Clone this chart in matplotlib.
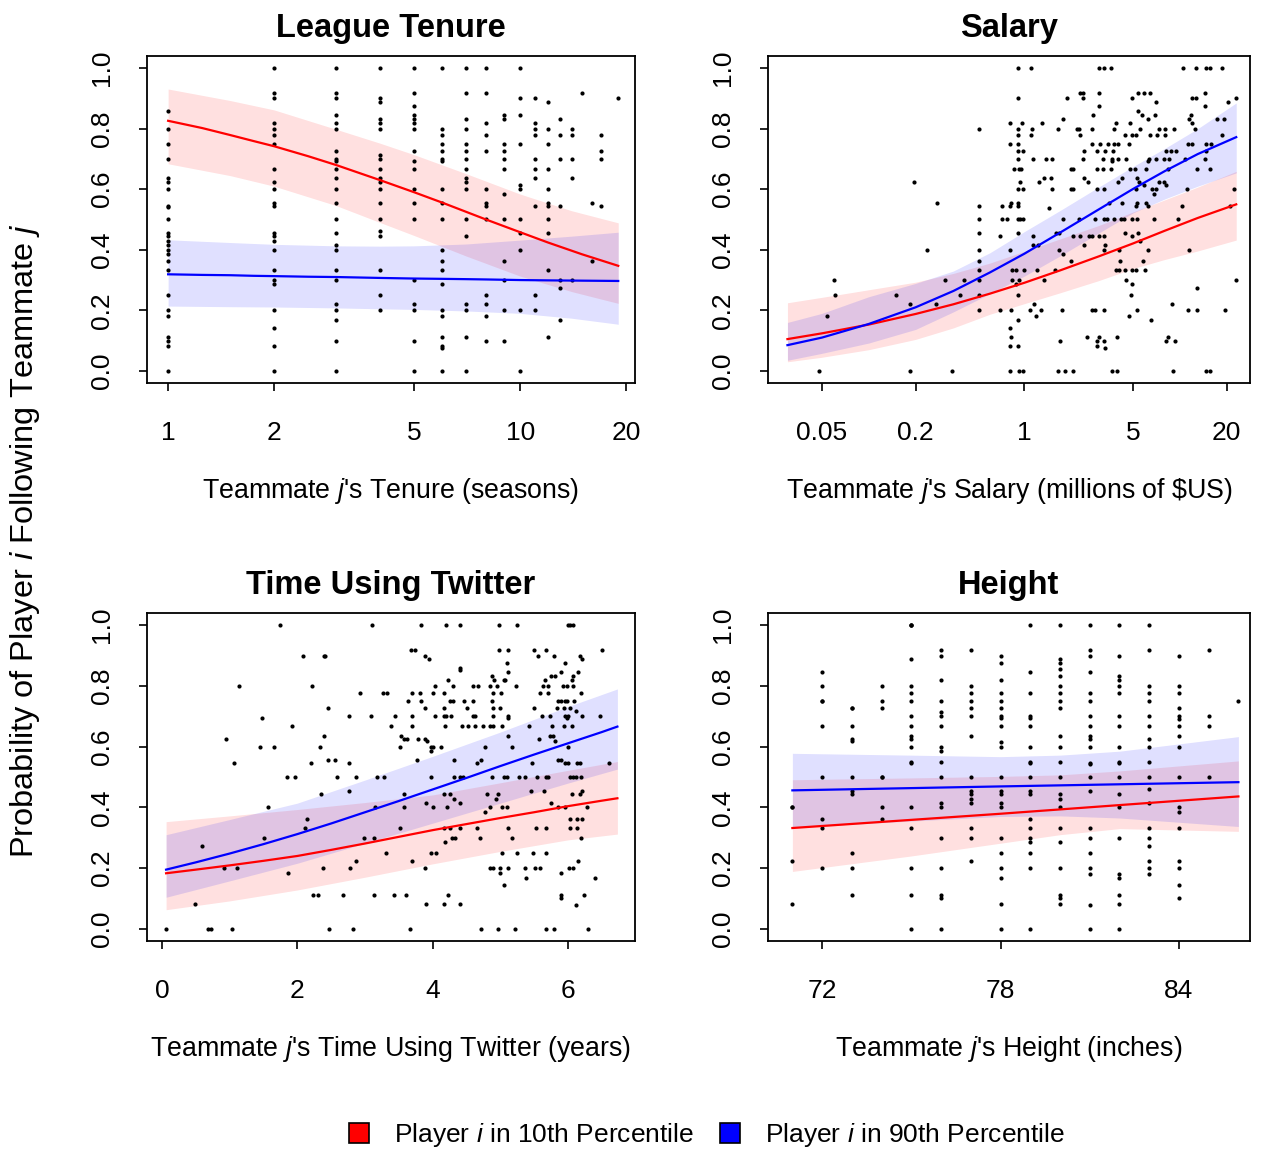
import numpy as np
import matplotlib
matplotlib.use('Agg')
import matplotlib.pyplot as plt
from matplotlib.patches import Patch

plt.rcParams['font.family'] = ['Liberation Sans', 'DejaVu Sans']
plt.rcParams['mathtext.fontset'] = 'custom'
plt.rcParams['mathtext.rm'] = 'Liberation Sans'
plt.rcParams['mathtext.it'] = 'Liberation Sans:italic'

# ---- League tenure (seasons), points grouped by tenure ----
tenure_seasons = [1, 2, 3, 4, 5, 6, 7, 8, 9, 10, 11, 12, 13, 14, 15, 16, 17, 19]
tenure_props = [
    [0.857, 0.8, 0.75, 0.7, 0.636, 0.625, 0.6, 0.545, 0.54, 0.5, 0.455, 0.444, 0.429, 0.417, 0.4,
     0.385, 0.364, 0.333, 0.25, 0.2, 0.182, 0.111, 0.1, 0.083, 0.0],
    [1.0, 0.917, 0.9, 0.818, 0.8, 0.778, 0.75, 0.667, 0.625, 0.6, 0.556, 0.545, 0.455, 0.444, 0.429,
     0.4, 0.333, 0.3, 0.286, 0.2, 0.143, 0.083, 0.0],
    [1.0, 0.917, 0.9, 0.846, 0.818, 0.8, 0.727, 0.7, 0.692, 0.667, 0.636, 0.6, 0.556, 0.5, 0.455,
     0.417, 0.4, 0.333, 0.3, 0.222, 0.2, 0.167, 0.1, 0.0],
    [1.0, 0.9, 0.889, 0.833, 0.818, 0.8, 0.714, 0.7, 0.667, 0.636, 0.625, 0.6, 0.556, 0.5, 0.462,
     0.444, 0.333, 0.25, 0.2],
    [1.0, 0.917, 0.875, 0.846, 0.833, 0.818, 0.8, 0.727, 0.692, 0.667, 0.6, 0.556, 0.5, 0.3, 0.222,
     0.2, 0.1, 0.0],
    [1.0, 0.8, 0.778, 0.75, 0.727, 0.7, 0.692, 0.6, 0.556, 0.5, 0.4, 0.364, 0.333, 0.286, 0.2, 0.182,
     0.111, 0.083, 0.077, 0.0],
    [1.0, 0.917, 0.833, 0.8, 0.75, 0.727, 0.7, 0.667, 0.636, 0.625, 0.6, 0.5, 0.444, 0.222, 0.2,
     0.111, 0.0],
    [1.0, 0.917, 0.818, 0.778, 0.727, 0.6, 0.556, 0.545, 0.5, 0.25, 0.222, 0.182, 0.1],
    [0.846, 0.833, 0.75, 0.727, 0.7, 0.667, 0.583, 0.5, 0.364, 0.3, 0.2, 0.1],
    [1.0, 0.9, 0.846, 0.75, 0.615, 0.6, 0.5, 0.455, 0.4, 0.2, 0.0],
    [0.9, 0.818, 0.8, 0.778, 0.7, 0.667, 0.636, 0.545, 0.25, 0.2],
    [0.889, 0.8, 0.75, 0.667, 0.6, 0.556, 0.545, 0.5, 0.455, 0.333, 0.111],
    [0.833, 0.778, 0.7, 0.545, 0.3, 0.273, 0.167],
    [0.8, 0.778, 0.7, 0.636, 0.3],
    [0.917],
    [0.556, 0.364],
    [0.778, 0.727, 0.7, 0.545],
    [0.9],
]
tenure_fit_x = [1, 1.25, 1.5, 1.75, 2, 2.5, 3, 4, 5, 6, 7, 8, 10, 12, 15, 19]
tenure_fit_p10 = [0.826, 0.802, 0.779, 0.759, 0.742, 0.709, 0.68, 0.63, 0.59, 0.556, 0.526, 0.5,
                  0.458, 0.424, 0.385, 0.347]
tenure_fit_p90 = [0.319, 0.317, 0.316, 0.314, 0.313, 0.311, 0.31, 0.307, 0.305, 0.304, 0.303, 0.302,
                  0.3, 0.299, 0.298, 0.297]
tenure_band_x = [1, 1.5, 2, 3, 4, 5, 7, 10, 14, 19]
tenure_p10_hi = [0.931, 0.893, 0.862, 0.798, 0.752, 0.714, 0.652, 0.584, 0.529, 0.489]
tenure_p10_lo = [0.684, 0.645, 0.61, 0.546, 0.49, 0.447, 0.38, 0.313, 0.262, 0.223]
tenure_p90_hi = [0.433, 0.424, 0.418, 0.413, 0.412, 0.413, 0.419, 0.432, 0.445, 0.458]
tenure_p90_lo = [0.214, 0.212, 0.211, 0.208, 0.205, 0.203, 0.198, 0.19, 0.174, 0.154]

# ---- Salary (millions of $US), points grouped by proportion ----
salary_levels = [1.0, 0.917, 0.9, 0.889, 0.875, 0.857, 0.846, 0.833, 0.818, 0.8, 0.778, 0.75, 0.727,
                 0.7, 0.692, 0.667, 0.636, 0.625, 0.615, 0.6, 0.583, 0.556, 0.545, 0.538, 0.5, 0.455,
                 0.444, 0.429, 0.417, 0.4, 0.385, 0.364, 0.333, 0.3, 0.286, 0.273, 0.25, 0.222, 0.2,
                 0.182, 0.167, 0.143, 0.111, 0.1, 0.083, 0.077, 0.0]
salary_rows = [
    [0.906, 1.10, 3.03, 3.26, 3.59, 10.45, 12.7, 14.6, 15.5, 18.7],
    [2.27, 2.39, 3.0, 5.41, 5.88, 6.39, 14.5],
    [0.91, 1.87, 2.37, 4.9, 12.0, 12.7, 23.0],
    [7.0, 20.4],
    [3.0, 14.5],
    [5.41],
    [2.78, 5.74, 6.92, 11.8],
    [1.76, 6.27, 11.5, 17.3, 19.1],
    [0.81, 0.96, 1.30, 3.87, 4.76, 11.9],
    [0.51, 0.91, 1.12, 1.64, 2.18, 2.25, 2.71, 3.78, 5.54, 7.33, 8.0, 9.15, 12.5],
    [0.91, 1.10, 2.27, 4.44, 4.9, 5.25, 6.39, 7.16, 8.0, 18.5],
    [0.81, 0.915, 2.71, 3.06, 3.45, 3.78, 3.97, 4.71, 11.3, 11.9, 14.75, 15.9],
    [0.91, 0.98, 2.42, 2.95, 3.29, 3.72, 8.09, 8.71, 9.38, 14.6],
    [0.91, 1.14, 1.38, 1.50, 2.39, 3.18, 3.65, 3.97, 4.49, 6.33, 6.98, 7.89, 8.5, 10.8, 14.5],
    [3.65, 6.27],
    [0.855, 0.92, 0.95, 1.99, 2.06, 2.95, 3.18, 3.59, 4.78, 5.15, 6.09, 8.42, 12.9, 15.5],
    [1.34, 1.48, 2.42, 4.23, 5.33],
    [0.195, 0.94, 1.24, 2.55, 3.97, 5.46, 7.33, 7.89],
    [5.88, 8.09],
    [0.91, 0.98, 1.50, 1.99, 2.06, 2.95, 3.26, 5.2, 6.65, 7.05, 11.1, 22.2],
    [6.81],
    [0.274, 0.82, 0.91, 3.51, 4.23, 5.33, 6.03],
    [0.51, 0.72, 0.81, 0.91, 5.2, 6.27, 10.25, 21.1],
    [1.45],
    [0.51, 0.72, 0.77, 0.91, 0.94, 0.98, 1.76, 2.25, 2.85, 3.26, 3.42, 3.78, 4.17, 4.38, 4.95, 5.33,
     6.81, 9.75],
    [0.51, 0.91, 1.60, 1.68, 4.44, 5.41],
    [0.70, 1.13, 2.04, 2.27, 2.61, 2.74, 3.03, 3.26, 4.9],
    [5.54],
    [1.13, 1.22, 2.42, 3.29],
    [0.237, 0.51, 0.81, 1.66, 3.26, 4.03, 6.27, 11.4],
    [1.76],
    [0.51, 1.99, 4.1, 5.82],
    [0.51, 0.83, 0.885, 1.0, 1.2, 1.58, 3.87, 4.06, 4.44, 4.9, 5.2, 5.97],
    [0.06, 0.307, 0.408, 0.51, 0.83, 0.92, 1.34, 4.49, 23.0],
    [0.885, 4.95],
    [12.8],
    [0.061, 0.15, 0.387, 0.51, 0.91, 4.83],
    [0.185, 0.269, 1.16, 8.93],
    [0.51, 0.70, 0.82, 1.09, 1.28, 1.74, 2.71, 2.85, 3.26, 5.33, 11.3, 12.8, 19.4],
    [0.054, 1.18, 4.67],
    [0.915, 6.55],
    [0.813],
    [0.82, 2.52, 3.0, 3.93, 8.42],
    [1.70, 2.95, 3.26, 8.17, 9.29],
    [0.813, 0.915, 2.95],
    [3.31],
    [0.048, 0.185, 0.344, 0.813, 0.92, 0.98, 1.65, 1.83, 2.06, 3.65, 3.93, 9.06, 14.6, 15.7],
]
salary_fit_x = [0.03, 0.05, 0.1, 0.2, 0.35, 0.6, 1.0, 1.7, 3.0, 5.0, 8.0, 13.0, 23.0]
salary_fit_p10 = [0.105, 0.124, 0.153, 0.188, 0.22, 0.255, 0.291, 0.332, 0.378, 0.421, 0.463, 0.505, 0.55]
salary_fit_p90 = [0.085, 0.11, 0.155, 0.21, 0.264, 0.325, 0.387, 0.457, 0.533, 0.601, 0.66, 0.716, 0.772]
salary_p10_hi = [0.225, 0.243, 0.268, 0.293, 0.322, 0.356, 0.395, 0.436, 0.48, 0.525, 0.565, 0.607, 0.659]
salary_p10_lo = [0.03, 0.045, 0.07, 0.104, 0.142, 0.187, 0.222, 0.258, 0.298, 0.338, 0.368, 0.396, 0.432]
salary_p90_hi = [0.16, 0.19, 0.245, 0.289, 0.33, 0.39, 0.46, 0.53, 0.607, 0.675, 0.735, 0.8, 0.885]
salary_p90_lo = [0.035, 0.058, 0.092, 0.137, 0.195, 0.255, 0.313, 0.38, 0.455, 0.522, 0.568, 0.61, 0.654]

# ---- Time using Twitter (years), points grouped by proportion ----
twitter_levels = [1.0, 0.917, 0.9, 0.888, 0.875, 0.858, 0.851, 0.845, 0.834, 0.818, 0.8, 0.778, 0.75,
                  0.727, 0.716, 0.7, 0.694, 0.693, 0.667, 0.636, 0.626, 0.617, 0.6, 0.584, 0.557,
                  0.546, 0.5, 0.454, 0.445, 0.428, 0.416, 0.4, 0.386, 0.363, 0.333, 0.3, 0.285, 0.273,
                  0.25, 0.222, 0.2, 0.183, 0.167, 0.144, 0.111, 0.101, 0.083, 0.078, 0.0]
twitter_rows = [
    [1.74, 3.10, 3.82, 4.20, 4.41, 4.98, 5.25, 6.0, 6.03, 6.07],
    [3.68, 3.74, 4.98, 5.11, 5.49, 5.68, 6.50],
    [2.09, 2.39, 2.41, 3.88, 5.56, 5.79, 6.18],
    [3.95, 6.21],
    [5.10, 5.95],
    [4.41],
    [4.41],
    [5.12, 6.15, 5.89],
    [4.88, 5.75, 5.81, 6.08],
    [4.22, 4.90, 5.05, 5.07, 5.66, 6.06],
    [1.14, 2.21, 4.04, 4.30, 4.60, 4.67, 4.84, 4.95, 5.23, 5.63, 5.71, 5.93, 5.99, 6.07],
    [2.93, 3.27, 3.33, 3.70, 3.81, 4.0, 4.17, 4.89, 5.01, 5.58, 5.71, 6.19],
    [3.63, 3.82, 4.26, 4.30, 4.47, 4.60, 4.87, 5.85, 5.90, 5.95, 5.99, 6.09],
    [2.45, 3.88, 4.17, 4.50, 4.89, 4.99, 5.50, 5.84, 5.94, 6.03],
    [6.12],
    [2.77, 3.09, 3.44, 3.70, 4.03, 4.16, 4.20, 4.27, 4.60, 4.62, 4.89, 5.11, 5.62, 5.74, 5.95, 6.0,
     6.21, 6.47],
    [5.11, 5.99],
    [1.48],
    [1.92, 3.39, 3.70, 4.18, 4.44, 4.52, 4.63, 4.75, 4.85, 4.89, 5.03, 5.43, 5.77, 5.94, 6.06],
    [2.40, 3.53, 5.11, 5.74, 5.78],
    [0.94, 3.58, 3.62, 3.78, 3.88, 5.57],
    [3.92, 5.81],
    [1.45, 1.65, 2.34, 3.51, 3.98, 4.01, 4.13, 4.77, 5.17, 6.0],
    [3.97],
    [2.45, 2.55, 3.77, 4.32, 4.71, 5.85, 5.89],
    [1.07, 2.20, 2.77, 4.66, 5.47, 5.95, 6.0, 6.13, 6.17, 6.61],
    [1.84, 1.97, 2.59, 2.87, 3.18, 3.28, 3.98, 4.31, 4.41, 4.45, 4.88, 5.05, 5.10, 5.28, 5.37, 5.54,
     5.67, 5.70, 6.03, 6.08, 6.12, 6.19],
    [2.77, 5.45, 5.64, 6.21],
    [2.35, 3.58, 4.17, 4.25, 4.80, 4.96, 6.06, 6.17],
    [4.31, 4.94],
    [3.90, 4.40, 5.75],
    [1.57, 3.15, 3.57, 4.01, 4.21, 4.84, 5.02, 5.10, 5.85, 5.95, 6.28],
    [4.77],
    [2.14, 6.03, 6.13, 6.20],
    [2.11, 3.51, 4.16, 4.25, 4.40, 4.66, 5.11, 5.52, 5.67, 6.03, 6.13],
    [1.50, 2.98, 3.13, 4.28, 4.33, 4.70, 5.17, 6.19],
    [4.18],
    [0.59],
    [3.31, 3.97, 4.05, 5.02, 5.25, 5.48, 5.67],
    [2.86, 3.70, 6.15],
    [0.92, 1.11, 2.38, 2.78, 3.88, 4.85, 4.89, 4.99, 5.12, 5.36, 5.51, 5.58, 6.01, 6.08],
    [1.86, 4.99, 5.89],
    [5.38, 6.40],
    [5.05],
    [2.23, 2.31, 2.67, 3.13, 3.43, 3.61, 4.22, 5.89, 6.23],
    [5.89],
    [0.48, 3.90, 4.17, 4.40],
    [6.12],
    [0.06, 0.68, 0.73, 1.03, 2.47, 2.82, 3.67, 4.71, 4.97, 5.22, 5.67, 5.79, 6.30],
]
twitter_fit_x = [0.06, 0.5, 1.0, 1.5, 2.0, 2.5, 3.0, 3.5, 4.0, 4.5, 5.0, 5.5, 6.0, 6.5, 6.73]
twitter_fit_p10 = [0.183, 0.195, 0.209, 0.224, 0.24, 0.26, 0.281, 0.303, 0.325, 0.345, 0.365, 0.384,
                   0.404, 0.422, 0.43]
twitter_fit_p90 = [0.195, 0.219, 0.248, 0.279, 0.312, 0.347, 0.384, 0.421, 0.459, 0.497, 0.536, 0.574,
                   0.611, 0.648, 0.666]
twitter_band_x = [0.06, 1.0, 2.0, 3.0, 4.0, 5.0, 6.0, 6.73]
twitter_p10_hi = [0.353, 0.372, 0.393, 0.416, 0.441, 0.481, 0.522, 0.551]
twitter_p10_lo = [0.063, 0.092, 0.128, 0.17, 0.214, 0.255, 0.293, 0.312]
twitter_p90_hi = [0.31, 0.36, 0.414, 0.49, 0.568, 0.648, 0.732, 0.79]
twitter_p90_lo = [0.104, 0.158, 0.216, 0.282, 0.348, 0.414, 0.48, 0.526]

# ---- Height (inches), points grouped by height ----
height_inches = [71, 72, 73, 74, 75, 76, 77, 78, 79, 80, 81, 82, 83, 84, 85, 86]
height_props = [
    [0.4, 0.4, 0.222, 0.083],
    [0.845, 0.8, 0.75, 0.75, 0.667, 0.5, 0.363, 0.333, 0.2],
    [0.727, 0.727, 0.667, 0.626, 0.617, 0.5, 0.454, 0.445, 0.25, 0.2, 0.111],
    [0.8, 0.75, 0.727, 0.5, 0.5, 0.4, 0.363],
    [1.0, 1.0, 1.0, 0.888, 0.8, 0.778, 0.75, 0.7, 0.667, 0.636, 0.626, 0.6, 0.55, 0.546, 0.4, 0.333,
     0.2, 0.111, 0.0],
    [0.917, 0.9, 0.818, 0.75, 0.714, 0.7, 0.667, 0.6, 0.584, 0.55, 0.5, 0.416, 0.4, 0.3, 0.2, 0.111,
     0.1, 0.0],
    [0.917, 0.8, 0.778, 0.75, 0.727, 0.7, 0.636, 0.5, 0.454, 0.445, 0.428, 0.416, 0.333, 0.3, 0.222],
    [0.9, 0.875, 0.818, 0.778, 0.75, 0.727, 0.7, 0.693, 0.667, 0.616, 0.6, 0.5, 0.454, 0.445, 0.416,
     0.4, 0.3, 0.25, 0.2, 0.167, 0.083, 0.0],
    [1.0, 0.845, 0.778, 0.7, 0.693, 0.667, 0.6, 0.55, 0.546, 0.5, 0.454, 0.445, 0.363, 0.333, 0.3,
     0.285, 0.25, 0.2, 0.0],
    [1.0, 0.888, 0.875, 0.856, 0.833, 0.8, 0.778, 0.75, 0.727, 0.636, 0.6, 0.55, 0.5, 0.445, 0.428,
     0.4, 0.333, 0.285, 0.2, 0.111, 0.101, 0.083],
    [1.0, 0.917, 0.9, 0.845, 0.778, 0.75, 0.7, 0.667, 0.636, 0.626, 0.6, 0.546, 0.542, 0.5, 0.454,
     0.333, 0.3, 0.25, 0.2, 0.182, 0.078, 0.0],
    [1.0, 0.9, 0.833, 0.818, 0.8, 0.778, 0.7, 0.667, 0.6, 0.55, 0.546, 0.5, 0.445, 0.4, 0.3, 0.182,
     0.167, 0.111, 0.083, 0.0],
    [1.0, 0.917, 0.8, 0.778, 0.75, 0.7, 0.667, 0.626, 0.6, 0.55, 0.5, 0.461, 0.416, 0.333, 0.3, 0.273,
     0.222, 0.2, 0.182],
    [0.9, 0.8, 0.778, 0.727, 0.7, 0.692, 0.667, 0.636, 0.6, 0.5, 0.4, 0.385, 0.333, 0.222, 0.2, 0.144,
     0.101],
    [0.917, 0.7, 0.667, 0.5],
    [0.75],
]
height_fit_x = [71, 78, 86]
height_fit_p10 = [0.332, 0.379, 0.436]
height_fit_p90 = [0.456, 0.469, 0.483]
height_band_x = [71, 75, 78, 80, 82, 86]
height_p10_hi = [0.491, 0.497, 0.502, 0.507, 0.52, 0.553]
height_p10_lo = [0.189, 0.24, 0.282, 0.31, 0.33, 0.321]
height_p90_hi = [0.578, 0.572, 0.567, 0.572, 0.585, 0.633]
height_p90_lo = [0.334, 0.355, 0.37, 0.372, 0.365, 0.337]


def by_column(xs, groups):
    px = [x for x, g in zip(xs, groups) for _ in g]
    py = [p for g in groups for p in g]
    return px, py


def by_row(levels, rows):
    px = [x for r in rows for x in r]
    py = [lv for lv, r in zip(levels, rows) for _ in r]
    return px, py


W, H = 1262, 1149
fig = plt.figure(figsize=(W / 100, H / 100), dpi=100)

RED_BAND = (1.0, 0.0, 0.0, 0.12)
BLUE_BAND = (0.0, 0.0, 1.0, 0.12)


def panel(rect, title, xlabel, pts, fit, band10, band90, xlim, xticks, xticklabels, logx):
    ax = fig.add_axes([rect[0] / W, 1 - rect[3] / H, (rect[2] - rect[0]) / W, (rect[3] - rect[1]) / H])
    bx, lo10, hi10 = band10
    ax.fill_between(bx, lo10, hi10, color=RED_BAND, lw=0, zorder=1)
    bx, lo90, hi90 = band90
    ax.fill_between(bx, lo90, hi90, color=BLUE_BAND, lw=0, zorder=1)
    ax.scatter(pts[0], pts[1], s=9, color='black', linewidths=0, zorder=2)
    fx, f10, f90 = fit
    ax.plot(fx, f10, color='#ff0000', lw=1.6, zorder=3)
    ax.plot(fx, f90, color='#0000ff', lw=1.6, zorder=3)
    if logx:
        ax.set_xscale('log')
    ax.set_xlim(*xlim)
    ax.set_ylim(-0.04, 1.04)
    ax.set_xticks(xticks, xticklabels)
    ax.minorticks_off()
    yt = [0.0, 0.2, 0.4, 0.6, 0.8, 1.0]
    ax.set_yticks(yt, ['%.1f' % v for v in yt], rotation=90, va='center')
    ax.tick_params(length=6, width=1.2, labelsize=19, pad=18)
    ax.tick_params(axis='x', pad=21.5)
    for s in ax.spines.values():
        s.set_linewidth(1.3)
    ax.set_title(title, fontsize=23.5, fontweight='bold', pad=14)
    ax.text(0.5, -0.352, xlabel, transform=ax.transAxes, ha='center', va='baseline', fontsize=19.3)
    return ax


panel((147, 56, 635, 383), 'League Tenure', "Teammate $j$'s Tenure (seasons)",
      by_column(tenure_seasons, tenure_props),
      (tenure_fit_x, tenure_fit_p10, tenure_fit_p90),
      (tenure_band_x, tenure_p10_lo, tenure_p10_hi),
      (tenure_band_x, tenure_p90_lo, tenure_p90_hi),
      (0.871, 21.2), [1, 2, 5, 10, 20], ['1', '2', '5', '10', '20'], True)

panel((768, 56, 1250, 383), 'Salary', "Teammate $j$'s Salary (millions of \\$US)",
      by_row(salary_levels, salary_rows),
      (salary_fit_x, salary_fit_p10, salary_fit_p90),
      (salary_fit_x, salary_p10_lo, salary_p10_hi),
      (salary_fit_x, salary_p90_lo, salary_p90_hi),
      (0.0225, 28.2), [0.05, 0.2, 1, 5, 20], ['0.05', '0.2', '1', '5', '20'], True)

panel((147, 613, 635, 941), 'Time Using Twitter', "Teammate $j$'s Time Using Twitter (years)",
      by_row(twitter_levels, twitter_rows),
      (twitter_fit_x, twitter_fit_p10, twitter_fit_p90),
      (twitter_band_x, twitter_p10_lo, twitter_p10_hi),
      (twitter_band_x, twitter_p90_lo, twitter_p90_hi),
      (-0.222, 6.99), [0, 2, 4, 6], ['0', '2', '4', '6'], False)

panel((768, 613, 1250, 941), 'Height', "Teammate $j$'s Height (inches)",
      by_column(height_inches, height_props),
      (height_fit_x, height_fit_p10, height_fit_p90),
      (height_band_x, height_p10_lo, height_p10_hi),
      (height_band_x, height_p90_lo, height_p90_hi),
      (70.18, 86.39), [72, 78, 84], ['72', '78', '84'], False)

fig.text(25 / W, 1 - 541 / H, 'Probability of Player $i$ Following Teammate $j$',
         rotation=90, ha='center', va='center', fontsize=23.4)

handles = [Patch(facecolor='#ff0000', edgecolor='black', linewidth=1.2),
           Patch(facecolor='#0000ff', edgecolor='black', linewidth=1.2)]
fig.legend(handles, ['Player $i$ in 10th Percentile', 'Player $i$ in 90th Percentile'],
           loc='center', bbox_to_anchor=(707 / W, 1 - 1135 / H), ncol=2, frameon=False,
           fontsize=19, handlelength=0.76, handleheight=0.76, handletextpad=0.95,
           columnspacing=1.0, borderpad=0)

fig.savefig('out.png', dpi=100)
